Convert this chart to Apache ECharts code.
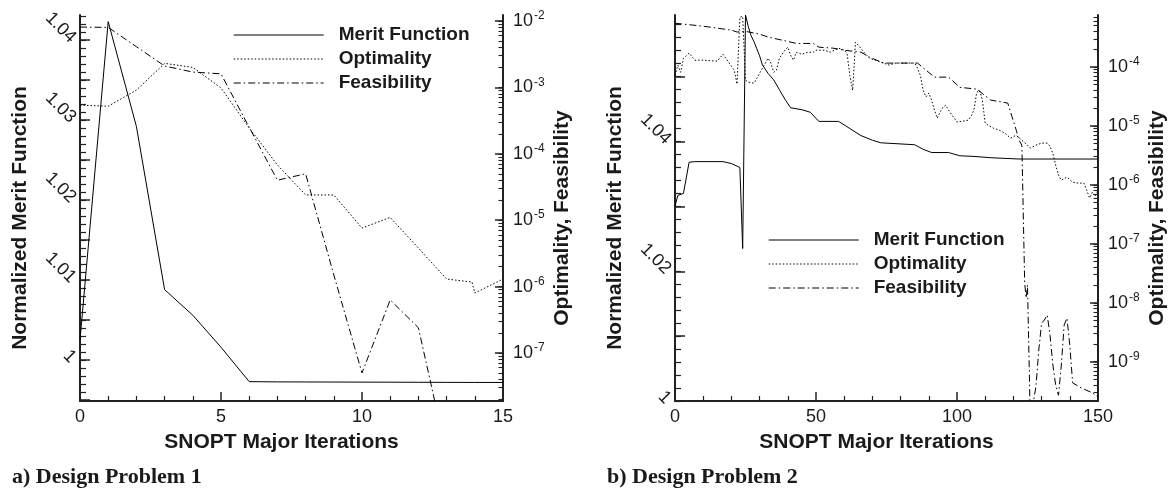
<!DOCTYPE html>
<html><head><meta charset="utf-8">
<script src="https://cdn.jsdelivr.net/npm/echarts@6/dist/echarts.min.js"></script>
<style>html,body{margin:0;padding:0;background:#fff}#c{width:1172px;height:491px}</style>
</head><body><div id="c"></div>
<script>
// ---------- Panel a: Design Problem 1 ----------
const meritA = [[0,1.0025],[1,1.0423],[2,1.0292],[3,1.0088],[4,1.0056],[5,1.0016],[6,0.9973],[7,0.99727],[8,0.99726],[9,0.99725],[10,0.99724],[11,0.99723],[12,0.99722],[13,0.99721],[14,0.9972],[15,0.9972]];
const optA = [[0,5.4e-4],[1,5.2e-4],[2,9.1e-4],[3,2.3e-3],[4,2.0e-3],[5,9.8e-4],[6,2.45e-4],[7,6.8e-5],[8,2.4e-5],[9,2.4e-5],[10,7.6e-6],[11,1.1e-5],[12,3.8e-6],[13,1.3e-6],[13.9,1.17e-6],[14,8.0e-7],[15,1.3e-6]];
const feasA = [[0,8.1e-3],[1,8.0e-3],[2,4.1e-3],[3,2.1e-3],[4,1.7e-3],[5,1.6e-3],[6,2.5e-4],[7,4.0e-5],[8,5.0e-5],[9,1.5e-6],[10,5.0e-8],[11,6.3e-7],[12,2.4e-7],[13,3.0e-9]];
const leftLabelsA = [1, 1.01, 1.02, 1.03, 1.04];
const rightExpA = [-7, -6, -5, -4, -3, -2];

// ---------- Panel b: Design Problem 2 ----------
const meritB = [[0,1.0300],[1,1.0317],[3,1.0320],[5,1.0368],[7,1.0369],[17,1.0369],[20,1.0366],[22,1.0362],[23,1.0360],[24,1.0235],[25,1.0595],[26,1.0577],[27,1.0563],[28,1.0554],[29,1.0543],[30,1.0532],[31,1.0518],[33,1.0505],[35,1.0495],[37,1.0480],[39,1.0465],[41,1.0452],[45,1.0449],[48,1.0445],[51,1.0431],[58,1.0431],[62,1.0420],[66,1.0409],[70,1.0402],[73,1.0398],[85,1.0395],[88,1.0388],[91,1.0383],[97,1.0383],[101,1.0378],[106,1.0377],[112,1.0375],[122,1.0373],[150,1.0373]];
const optB = [[0,7.2e-5],[1,1.07e-4],[2,8.1e-5],[3,1.4e-4],[5,1.71e-4],[7,1.3e-4],[10,1.3e-4],[15,1.25e-4],[17,1.64e-4],[19,1.2e-4],[21,8.8e-5],[22,5.1e-5],[23,6.95e-4],[24,7.2e-4],[25,5.96e-5],[26,5.5e-5],[28,5.3e-5],[29,6.4e-5],[31,9.5e-5],[33,1.4e-4],[34,1.16e-4],[35,8.1e-5],[36,8.8e-5],[37,1.4e-4],[39,1.92e-4],[40,2.16e-4],[41,1.58e-4],[42,1.3e-4],[43,1.77e-4],[45,1.64e-4],[47,1.77e-4],[49,1.77e-4],[50,1.92e-4],[53,1.92e-4],[55,1.77e-4],[58,2.08e-4],[60,1.92e-4],[61,1.71e-4],[62,7.2e-5],[63,4.0e-5],[64,2.62e-4],[65,2.33e-4],[67,1.77e-4],[69,1.4e-4],[71,1.3e-4],[73,1.2e-4],[76,1.07e-4],[78,1.16e-4],[81,1.16e-4],[85,1.16e-4],[86,9.5e-5],[87,7.2e-5],[88,4.0e-5],[89,3.1e-5],[90,3.6e-5],[91,2.73e-5],[92,1.85e-5],[93,1.35e-5],[94,1.71e-5],[95,2.07e-5],[96,2.24e-5],[97,1.85e-5],[99,1.35e-5],[100,1.16e-5],[102,1.2e-5],[104,1.25e-5],[105,1.46e-5],[106,1.85e-5],[107,3.7e-5],[108,4.0e-5],[109,2.73e-5],[110,1.11e-5],[111,1.03e-5],[113,9.1e-6],[115,8.45e-6],[117,7.5e-6],[119,6.2e-6],[121,6.95e-6],[123,5.7e-6],[125,4.7e-6],[126,4.2e-6],[128,4.7e-6],[130,5.1e-6],[132,5.1e-6],[133,4.5e-6],[134,3.4e-6],[135,2.16e-6],[136,1.46e-6],[137,1.2e-6],[139,1.35e-6],[141,1.11e-6],[143,1.07e-6],[145,1.07e-6],[146,8.1e-7],[147,6.0e-7],[148,7.5e-7],[149,6.4e-7],[150,8.1e-7]];
const feasB = [[0,5.5e-4],[10,4.9e-4],[20,4.2e-4],[22,3.9e-4],[25,4.0e-4],[30,3.6e-4],[33,3.2e-4],[38,2.84e-4],[43,2.5e-4],[49,2.5e-4],[51,2.16e-4],[56,2.08e-4],[60,1.92e-4],[66,1.77e-4],[69,1.46e-4],[74,1.16e-4],[86,1.16e-4],[92,6.7e-5],[97,6.7e-5],[101,4.5e-5],[107,4.2e-5],[112,2.73e-5],[118,2.43e-5],[121,8.45e-6],[122,5.7e-6],[123,4.7e-6],[124,2.2e-8],[124.5,1.2e-8],[125,2.0e-8],[126,1.0e-10],[127,2.0e-10],[128,3.8e-10],[129,1.58e-9],[130,4.5e-9],[131,5.1e-9],[132,6.2e-9],[133,2.8e-9],[134,8.8e-10],[135,4.0e-10],[136,2.7e-10],[137,8.8e-10],[138,4.2e-9],[139,5.5e-9],[140,1.9e-9],[141,4.4e-10],[144,3.6e-10],[148,2.97e-10],[150,2.5e-10]];
const leftLabelsB = [1, 1.02, 1.04];
const rightExpB = [-9, -8, -7, -6, -5, -4];

const seriesNames = ['Merit Function', 'Optimality', 'Feasibility'];
const captions = ['a) Design Problem 1', 'b) Design Problem 2'];
const xTitle = 'SNOPT Major Iterations';
const yLeftTitle = 'Normalized Merit Function';
const yRightTitle = 'Optimality, Feasibility';

// ---------- styling ----------
const SANS = 'Liberation Sans, Arial, sans-serif';
const TXT = '#1a1a1a';
const AX = '#222';

function steps(a, b, step, dec) {
  const out = [];
  const n = Math.round((b - a) / step);
  for (let i = 0; i <= n; i++) out.push(Number((a + i * step).toFixed(dec)));
  return out;
}
function logMinor(e0, e1) {
  const out = [];
  for (let n = Math.floor(e0); n <= Math.ceil(e1); n++) {
    for (let k = 1; k <= 9; k++) {
      const v = n + Math.log10(k);
      if (v >= e0 && v <= e1) out.push(v);
    }
  }
  return out;
}

const lineX = { show: true, onZero: false, lineStyle: { color: AX, width: 2 } };
const noLine = { show: false, onZero: false };

function xAxisDef(grid, max, interval) {
  return {
    gridIndex: grid, type: 'value', min: 0, max: max, interval: interval,
    axisLine: lineX,
    axisTick: { show: true, inside: true, length: 9, lineStyle: { color: AX, width: 1.5 } },
    minorTick: { show: true, splitNumber: 5, length: 5, lineStyle: { color: AX, width: 1.2 } },
    splitLine: { show: false }, minorSplitLine: { show: false },
    axisLabel: { color: TXT, fontFamily: SANS, fontSize: 18, margin: 7 },
    name: xTitle, nameLocation: 'middle', nameGap: 31,
    nameTextStyle: { color: TXT, fontFamily: SANS, fontSize: 21, fontWeight: 'bold', padding: [0, 20, 0, 0] }
  };
}

function leftAxes(grid, min, max, labels, major, minor) {
  return [{
    gridIndex: grid, type: 'value', position: 'left', min: min, max: max,
    axisLine: lineX,
    axisTick: { show: true, inside: true, length: 10, customValues: major, lineStyle: { color: AX, width: 1.5 } },
    axisLabel: { show: true, customValues: labels, rotate: -45, margin: 7, color: TXT, fontFamily: SANS, fontSize: 18 },
    splitLine: { show: false },
    name: yLeftTitle, nameLocation: 'middle', nameRotate: 90, nameGap: 49,
    nameTextStyle: { color: TXT, fontFamily: SANS, fontSize: 21, fontWeight: 'bold', padding: [0, 20, 0, 0] }
  }, {
    gridIndex: grid, type: 'value', position: 'left', min: min, max: max,
    axisLine: noLine,
    axisTick: { show: true, inside: true, length: 6, customValues: minor, lineStyle: { color: AX, width: 1.2 } },
    axisLabel: { show: false }, splitLine: { show: false }
  }];
}

function rightAxes(grid, e0, e1, exps) {
  return [{
    gridIndex: grid, type: 'log', position: 'right', min: Math.pow(10, e0), max: Math.pow(10, e1), show: false,
    axisLine: noLine, splitLine: { show: false }
  }, {
    gridIndex: grid, type: 'value', position: 'right', min: e0, max: e1,
    axisLine: lineX,
    axisTick: { show: true, inside: true, length: 8, customValues: exps, lineStyle: { color: AX, width: 1.5 } },
    axisLabel: {
      show: true, customValues: exps, margin: 10,
      formatter: v => '{b|10}{s|' + v + '}',
      rich: {
        b: { color: TXT, fontFamily: SANS, fontSize: 18, lineHeight: 22 },
        s: { color: TXT, fontFamily: SANS, fontSize: 12, verticalAlign: 'top', lineHeight: 22, padding: [0, 0, 0, 1] }
      }
    },
    splitLine: { show: false },
    name: yRightTitle, nameLocation: 'middle', nameRotate: 90, nameGap: 49,
    nameTextStyle: { color: TXT, fontFamily: SANS, fontSize: 21, fontWeight: 'bold', padding: [0, 20, 0, 0] }
  }, {
    gridIndex: grid, type: 'value', position: 'right', min: e0, max: e1,
    axisLine: noLine,
    axisTick: { show: true, inside: true, length: 4.5, customValues: logMinor(e0, e1), lineStyle: { color: AX, width: 1.1 } },
    axisLabel: { show: false }, splitLine: { show: false }
  }];
}

const eA = [-7.723, -1.91];
const eB = [-9.666, -3.12];
const minA = 0.99488, maxA = 1.04313;
const minB = 1.0, maxB = 1.0595;

const yAxes = [].concat(
  leftAxes(0, minA, maxA, leftLabelsA, steps(0.995, 1.04, 0.005, 3), steps(0.995, 1.043, 0.001, 3)),
  rightAxes(0, eA[0], eA[1], rightExpA),
  leftAxes(1, minB, maxB, leftLabelsB, steps(1.0, 1.05, 0.01, 2), steps(1.0, 1.058, 0.002, 3)),
  rightAxes(1, eB[0], eB[1], rightExpB)
);

function lineSeries(name, data, xi, yi, type) {
  return {
    name: name, type: 'line', data: data, xAxisIndex: xi, yAxisIndex: yi,
    symbol: 'none', showSymbol: false, smooth: false, clip: true, animation: false,
    itemStyle: { color: '#000' },
    lineStyle: { color: '#000', width: 1, type: type }
  };
}
const dotted = [1.5, 2];
const dashdot = [7, 3, 1.5, 3];

function legendDef(left, top) {
  return {
    orient: 'vertical', left: left, top: top, padding: 0, itemWidth: 90, itemHeight: 14, itemGap: 4,
    selectedMode: false, data: seriesNames,
    textStyle: { color: TXT, fontFamily: SANS, fontSize: 19, fontWeight: 'bold', lineHeight: 20, padding: [0, 0, 0, 10] },
    itemStyle: { opacity: 0 },
    lineStyle: { color: '#555', width: 1.4 }
  };
}

const option = {
  backgroundColor: '#fff',
  animation: false,
  title: [
    { text: captions[0], left: 7, top: 461, padding: 5, textStyle: { color: TXT, fontFamily: 'Liberation Serif, Times New Roman, serif', fontWeight: 'bold', fontSize: 22 } },
    { text: captions[1], left: 602, top: 461, padding: 5, textStyle: { color: TXT, fontFamily: 'Liberation Serif, Times New Roman, serif', fontWeight: 'bold', fontSize: 22 } }
  ],
  legend: [legendDef(233, 25), legendDef(768, 230)],
  grid: [
    { left: 80, right: 669, top: 15, bottom: 90, containLabel: false },
    { left: 675, right: 74, top: 15, bottom: 90, containLabel: false }
  ],
  xAxis: [xAxisDef(0, 15, 5), xAxisDef(1, 150, 50)],
  yAxis: yAxes,
  series: [
    lineSeries(seriesNames[0], meritA, 0, 0, 'solid'),
    lineSeries(seriesNames[1], optA, 0, 2, dotted),
    lineSeries(seriesNames[2], feasA, 0, 2, dashdot),
    lineSeries(seriesNames[0], meritB, 1, 5, 'solid'),
    lineSeries(seriesNames[1], optB, 1, 7, dotted),
    lineSeries(seriesNames[2], feasB, 1, 7, dashdot)
  ]
};

const chart = echarts.init(document.getElementById('c'), null, { renderer: 'canvas' });
chart.setOption(option);
</script>
</body></html>
